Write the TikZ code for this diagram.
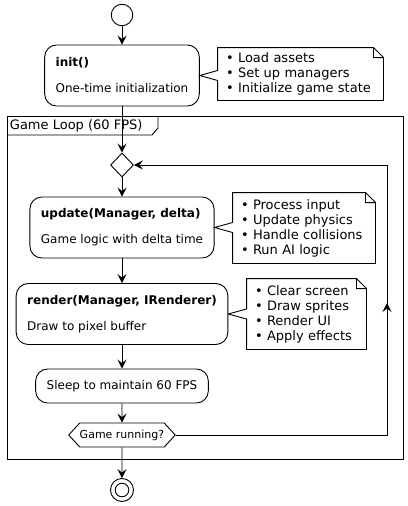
\documentclass[tikz,border=0pt]{standalone}
\usepackage{fontspec}
\setmainfont{DejaVu Sans}
\usetikzlibrary{arrows.meta,shapes.geometric,shapes.symbols}

\tikzset{
  activity/.style={draw,rounded corners=12pt,align=left,inner xsep=11pt,font=\fontsize{12}{14}\selectfont},
  notebox/.style={inner xsep=8pt,inner ysep=0pt,align=left,font=\fontsize{13}{15}\selectfont},
}

% folded note outline with its tail to an activity
\newcommand{\drawnote}[2]{%
  \draw (#1.north west) -- ([xshift=-10pt]#1.north east) -- ([yshift=-10pt]#1.north east)
    -- (#1.south east) -- (#1.south west) -- ([yshift=-5pt]#1.west |- #2.east)
    -- (#2.east) -- ([yshift=5pt]#1.west |- #2.east) -- cycle
    ([xshift=-10pt]#1.north east) |- ([yshift=-10pt]#1.north east);
}

\begin{document}
\begin{tikzpicture}[x=1pt,y=-1pt,line width=.9pt,>={Stealth[length=9pt,width=9pt,inset=3.5pt]}]
  \useasboundingbox (0,0) rectangle (407,506);
  % loop frame
  \draw (7,116) rectangle (403,459);
  \draw (7,135) -- (152,135) -- (158,128) -- (158,116);
  \node[anchor=west,inner sep=0pt,font=\fontsize{13}{15}\selectfont] (looplbl) at (9.5,126) {Game Loop (60 FPS)};

  \node[draw,circle,minimum size=21.5,inner sep=0pt] (start) at (122,15) {};
  \node[activity,minimum height=61] (init) at (122,75.5) {\textbf{init()}\\[12pt]One-time initialization};
  \node[draw,diamond,minimum width=23,minimum height=24,inner sep=0pt] (merge) at (122,165) {};
  \node[activity,minimum height=61] (update) at (122,227.5) {\textbf{update(Manager, delta)}\\[12pt]Game logic with delta time};
  \node[activity,minimum height=61] (render) at (122,314) {\textbf{render(Manager, IRenderer)}\\[12pt]Draw to pixel buffer};
  \node[activity,minimum height=34] (sleep) at (122,386) {Sleep to maintain 60 FPS};
  \node[draw,signal,signal to=west and east,signal pointer angle=95,inner xsep=0pt,minimum height=24,
        font=\fontsize{11}{13}\selectfont] (running) at (122,435) {Game running?};
  \node[draw,circle,minimum size=23,inner sep=0pt] (stop) at (122,490) {};
  \draw (stop.center) circle (6.8);

  % notes
  \node[notebox,text width=149,minimum height=52] (initnote) at (300.5,74)
    {\textbullet\ Load assets\\\textbullet\ Set up managers\\\textbullet\ Initialize game state};
  \node[notebox,text width=126,minimum height=70] (updatenote) at (304,228)
    {\textbullet\ Process input\\\textbullet\ Update physics\\\textbullet\ Handle collisions\\\textbullet\ Run AI logic};
  \node[notebox,text width=103,minimum height=70] (rendernote) at (306.5,314)
    {\textbullet\ Clear screen\\\textbullet\ Draw sprites\\\textbullet\ Render UI\\\textbullet\ Apply effects};
  \drawnote{initnote}{init}
  \drawnote{updatenote}{update}
  \drawnote{rendernote}{render}

  % flow
  \draw[->] (start) -- (init);
  \draw[->] (init) -- (merge);
  \draw[->] (merge) -- (update);
  \draw[->] (update) -- (render);
  \draw[->] (render) -- (sleep);
  \draw[->] (sleep) -- (running);
  \draw[->] (running) -- (stop);

  % back edge
  \coordinate (loopbr) at (387,435);
  \coordinate (looptr) at (387,165);
  \coordinate (loopmid) at (387,303);
  \draw[->] (running.east) -- (loopbr) -- (looptr) -- (merge.east);
  \draw[->] (loopbr) -- (loopmid);
\end{tikzpicture}
\end{document}
